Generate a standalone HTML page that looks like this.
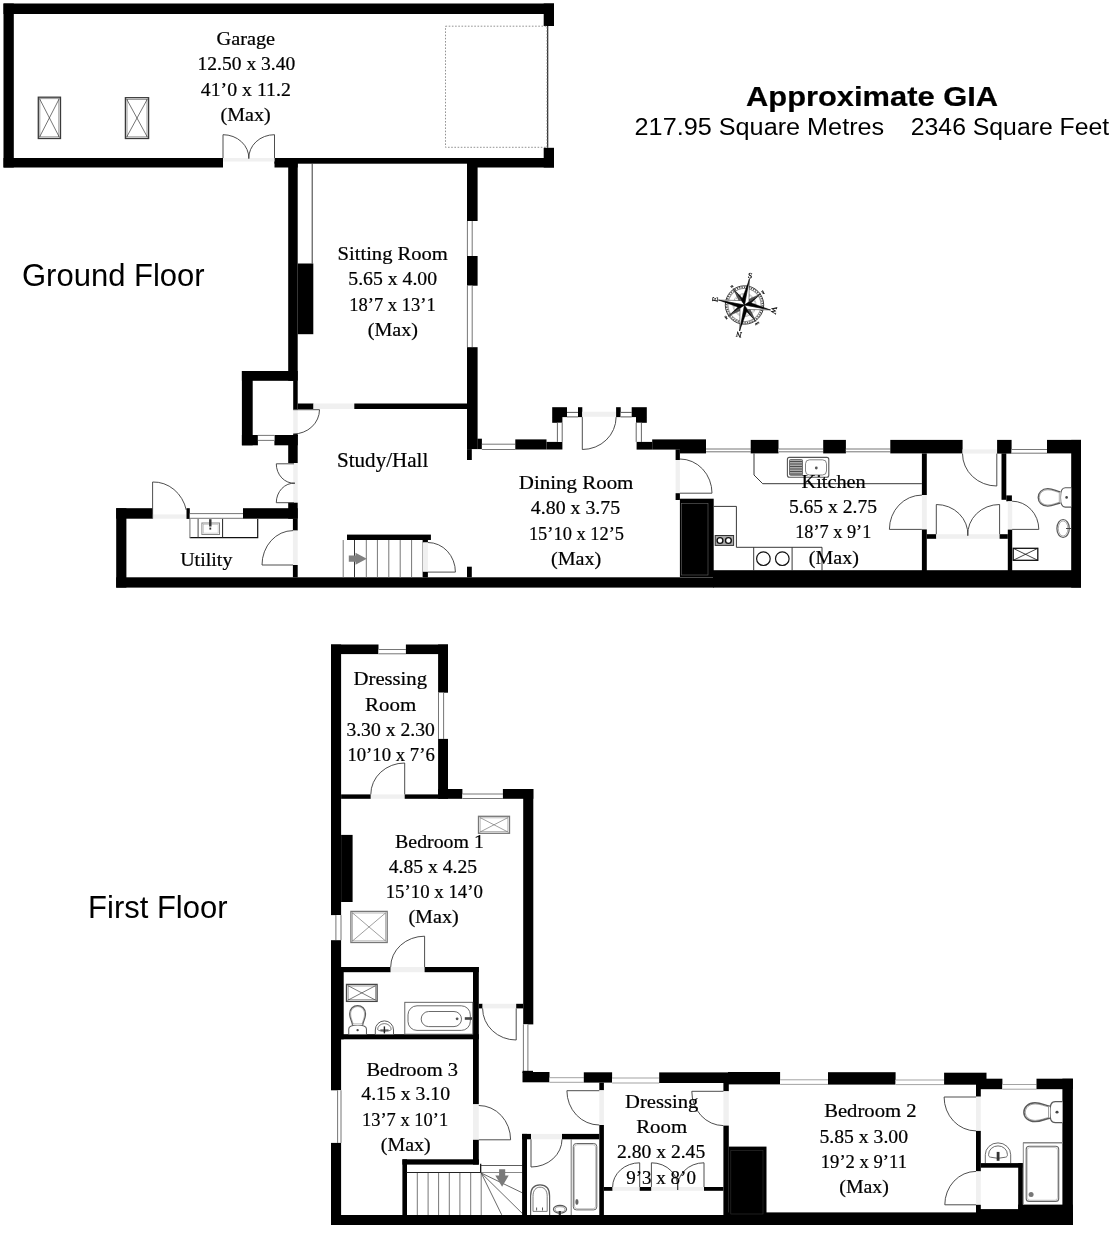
<!DOCTYPE html>
<html><head><meta charset="utf-8"><title>Floor plan</title>
<style>html,body{margin:0;padding:0;background:#fff;}svg{display:block;filter:grayscale(1);}text{fill:#000;stroke:#000;stroke-width:0.22px;}</style></head>
<body><svg width="1112" height="1234" viewBox="0 0 1112 1234">
<rect width="1112" height="1234" fill="#fff"/>
<rect x="3.5" y="3.5" width="550.5" height="10.5" fill="#000"/>
<rect x="3.5" y="3.5" width="10.3" height="164.0" fill="#000"/>
<rect x="3.5" y="158.0" width="219.5" height="9.5" fill="#000"/>
<rect x="274.5" y="158.0" width="279.5" height="5.7" fill="#000"/>
<rect x="274.5" y="158.0" width="23.2" height="9.5" fill="#000"/>
<rect x="467.0" y="158.0" width="87.0" height="9.5" fill="#000"/>
<rect x="543.7" y="3.5" width="10.3" height="22.5" fill="#000"/>
<rect x="543.7" y="147.8" width="10.3" height="19.7" fill="#000"/>
<line x1="547.7" y1="26.0" x2="547.7" y2="147.8" stroke="#111" stroke-width="1.1"/>
<rect x="445.5" y="26.2" width="101.5" height="121.1" rx="0" fill="none" stroke="#777" stroke-width="0.8" stroke-dasharray="1.6 1.6"/>
<rect x="223.0" y="158.0" width="51.5" height="3.5" fill="#f0f0f0"/>
<path d="M223.0 158.0L223.0 134.7A25.8 23.3 0 0 1 248.8 158.6" fill="none" stroke="#3a3a3a" stroke-width="0.9"/>
<path d="M274.5 158.0L274.5 134.7A25.7 23.3 0 0 0 248.8 158.6" fill="none" stroke="#3a3a3a" stroke-width="0.9"/>
<rect x="38.3" y="97.2" width="22.2" height="41.3" rx="0" fill="none" stroke="#3a3a3a" stroke-width="1.3" />
<rect x="39.9" y="98.8" width="19.0" height="38.1" rx="0" fill="none" stroke="#3a3a3a" stroke-width="0.5" />
<line x1="39.3" y1="98.2" x2="59.5" y2="137.5" stroke="#3a3a3a" stroke-width="0.7"/>
<line x1="39.3" y1="137.5" x2="59.5" y2="98.2" stroke="#3a3a3a" stroke-width="0.7"/>
<rect x="125.4" y="97.7" width="23.2" height="40.8" rx="0" fill="none" stroke="#3a3a3a" stroke-width="1.3" />
<rect x="127.0" y="99.3" width="20.0" height="37.6" rx="0" fill="none" stroke="#3a3a3a" stroke-width="0.5" />
<line x1="126.4" y1="98.7" x2="147.6" y2="137.5" stroke="#3a3a3a" stroke-width="0.7"/>
<line x1="126.4" y1="137.5" x2="147.6" y2="98.7" stroke="#3a3a3a" stroke-width="0.7"/>
<rect x="288.2" y="163.0" width="9.5" height="217.8" fill="#000"/>
<rect x="293.2" y="380.8" width="4.5" height="28.9" fill="#000"/>
<rect x="293.2" y="409.7" width="4.5" height="24.2" fill="#f0f0f0"/>
<rect x="293.2" y="433.9" width="4.5" height="2.1" fill="#000"/>
<rect x="288.2" y="435.0" width="9.5" height="28.1" fill="#000"/>
<rect x="293.2" y="463.1" width="4.5" height="39.6" fill="#f0f0f0"/>
<rect x="288.2" y="502.7" width="9.5" height="16.0" fill="#000"/>
<rect x="292.9" y="518.7" width="4.8" height="11.9" fill="#000"/>
<rect x="292.9" y="530.6" width="4.8" height="34.4" fill="#f0f0f0"/>
<rect x="292.9" y="565.0" width="4.8" height="12.3" fill="#000"/>
<line x1="312.2" y1="163.7" x2="312.2" y2="263.5" stroke="#222" stroke-width="0.9"/>
<rect x="297.7" y="263.5" width="15.6" height="70.7" fill="#000"/>
<rect x="467.0" y="163.0" width="10.6" height="58.0" fill="#000"/>
<rect x="467.4" y="221.0" width="4.8" height="35.0" fill="#fff"/>
<line x1="467.4" y1="221.0" x2="467.4" y2="256.0" stroke="#666" stroke-width="0.9"/>
<line x1="472.2" y1="221.0" x2="472.2" y2="256.0" stroke="#666" stroke-width="0.9"/>
<rect x="467.0" y="256.0" width="10.6" height="29.7" fill="#000"/>
<rect x="467.4" y="285.7" width="4.8" height="61.5" fill="#fff"/>
<line x1="467.4" y1="285.7" x2="467.4" y2="347.2" stroke="#666" stroke-width="0.9"/>
<line x1="472.2" y1="285.7" x2="472.2" y2="347.2" stroke="#666" stroke-width="0.9"/>
<rect x="467.0" y="347.2" width="10.6" height="101.9" fill="#000"/>
<rect x="467.0" y="449.1" width="4.8" height="10.9" fill="#000"/>
<rect x="477.4" y="438.7" width="4.5" height="10.4" fill="#000"/>
<rect x="297.7" y="403.5" width="15.8" height="5.5" fill="#000"/>
<rect x="313.5" y="403.5" width="40.8" height="5.5" fill="#f0f0f0"/>
<rect x="354.3" y="403.5" width="112.7" height="5.5" fill="#000"/>
<rect x="241.9" y="371.0" width="55.8" height="9.8" fill="#000"/>
<rect x="241.9" y="371.0" width="10.8" height="74.3" fill="#000"/>
<rect x="241.9" y="435.0" width="16.0" height="10.3" fill="#000"/>
<rect x="274.4" y="435.0" width="23.3" height="10.3" fill="#000"/>
<rect x="257.9" y="435.4" width="16.5" height="5.0" fill="#fff"/>
<line x1="257.9" y1="435.4" x2="274.4" y2="435.4" stroke="#666" stroke-width="0.9"/>
<line x1="257.9" y1="440.4" x2="274.4" y2="440.4" stroke="#666" stroke-width="0.9"/>
<path d="M293.2 409.7L319.5 409.7A26.3 24.3 0 0 1 293.2 434.0" fill="none" stroke="#3a3a3a" stroke-width="0.9"/>
<path d="M294.0 463.8L276.3 463.8A17.7 19.4 0 0 0 294.9 483.2" fill="none" stroke="#3a3a3a" stroke-width="0.9"/>
<path d="M294.0 502.7L276.3 502.7A17.7 19.5 0 0 1 294.9 483.2" fill="none" stroke="#3a3a3a" stroke-width="0.9"/>
<rect x="116.2" y="508.2" width="36.4" height="10.5" fill="#000"/>
<rect x="152.6" y="514.4" width="33.7" height="4.3" fill="#f0f0f0"/>
<rect x="186.5" y="508.2" width="3.3" height="10.7" fill="#000"/>
<rect x="189.8" y="513.6" width="53.2" height="4.7" fill="#fff"/>
<line x1="189.8" y1="513.6" x2="243.0" y2="513.6" stroke="#666" stroke-width="0.9"/>
<line x1="189.8" y1="518.3" x2="243.0" y2="518.3" stroke="#666" stroke-width="0.9"/>
<rect x="243.0" y="508.2" width="54.7" height="10.5" fill="#000"/>
<rect x="116.2" y="508.2" width="10.2" height="79.4" fill="#000"/>
<rect x="116.2" y="577.3" width="597.5" height="10.3" fill="#000"/>
<rect x="713.0" y="570.2" width="368.0" height="17.4" fill="#000"/>
<path d="M152.6 518.7L152.6 482.0A33.7 36.7 0 0 1 186.3 510.0" fill="none" stroke="#3a3a3a" stroke-width="0.9"/>
<path d="M293.0 565.0L262.0 565.0A31.0 34.4 0 0 1 293.0 530.6" fill="none" stroke="#3a3a3a" stroke-width="0.9"/>
<path d="M189.7 537.7 L257.7 537.7 L257.7 518.9" fill="none" stroke="#111" stroke-width="1.2"/>
<line x1="189.9" y1="518.9" x2="189.9" y2="537.7" stroke="#888" stroke-width="1.2"/>
<line x1="222.6" y1="518.9" x2="222.6" y2="537.7" stroke="#222" stroke-width="1.0"/>
<line x1="198.1" y1="518.9" x2="198.1" y2="537.7" stroke="#333" stroke-width="0.9"/>
<rect x="201.9" y="523.0" width="17.6" height="11.5" rx="0" fill="none" stroke="#888" stroke-width="1.0" />
<rect x="203.3" y="524.4" width="14.8" height="8.7" rx="0" fill="none" stroke="#aaa" stroke-width="0.5" />
<rect x="209.1" y="519.2" width="2.4" height="7.3" fill="#333"/>
<rect x="209.4" y="527.6" width="1.8" height="2.0" fill="#333"/>
<rect x="347.0" y="534.6" width="83.9" height="5.4" fill="#000"/>
<line x1="343.2" y1="540.0" x2="343.2" y2="577.3" stroke="#777" stroke-width="1.0"/>
<line x1="354.5" y1="540.0" x2="354.5" y2="577.3" stroke="#333" stroke-width="1.0"/>
<line x1="366.3" y1="540.0" x2="366.3" y2="577.3" stroke="#777" stroke-width="1.0"/>
<line x1="377.4" y1="540.0" x2="377.4" y2="577.3" stroke="#777" stroke-width="1.0"/>
<line x1="388.8" y1="540.0" x2="388.8" y2="577.3" stroke="#777" stroke-width="1.0"/>
<line x1="400.2" y1="540.0" x2="400.2" y2="577.3" stroke="#777" stroke-width="1.0"/>
<line x1="411.6" y1="540.0" x2="411.6" y2="577.3" stroke="#777" stroke-width="1.0"/>
<line x1="422.9" y1="540.0" x2="422.9" y2="577.3" stroke="#777" stroke-width="1.0"/>
<rect x="422.9" y="540.0" width="5.0" height="2.5" fill="#000"/>
<rect x="422.9" y="542.5" width="5.0" height="29.3" fill="#f0f0f0"/>
<rect x="422.9" y="571.8" width="5.0" height="5.5" fill="#000"/>
<path d="M427.9 572.1L455.4 572.1A27.5 29.6 0 0 0 427.9 542.5" fill="none" stroke="#3a3a3a" stroke-width="0.9"/>
<path d="M348.8 555.6 L355.5 555.6 L355.5 552.8 L366.8 558.7 L355.5 564.7 L355.5 561.8 L348.8 561.8 Z" fill="#808080" stroke="none" stroke-width="0.9"/>
<rect x="467.0" y="566.7" width="4.8" height="10.6" fill="#000"/>
<rect x="481.9" y="444.2" width="33.4" height="5.3" fill="#fff"/>
<line x1="481.9" y1="444.2" x2="515.3" y2="444.2" stroke="#666" stroke-width="0.9"/>
<line x1="481.9" y1="449.5" x2="515.3" y2="449.5" stroke="#666" stroke-width="0.9"/>
<rect x="515.3" y="439.4" width="31.2" height="10.1" fill="#000"/>
<rect x="546.5" y="441.9" width="15.9" height="7.6" fill="#000"/>
<rect x="552.2" y="407.2" width="14.8" height="9.9" fill="#000"/>
<rect x="552.2" y="417.0" width="10.2" height="5.8" fill="#000"/>
<rect x="557.4" y="422.8" width="4.8" height="19.1" fill="#fff"/>
<line x1="557.4" y1="422.8" x2="557.4" y2="441.9" stroke="#555" stroke-width="0.9"/>
<line x1="562.2" y1="422.8" x2="562.2" y2="441.9" stroke="#555" stroke-width="0.9"/>
<rect x="567.0" y="412.4" width="11.0" height="4.5" fill="#fff"/>
<line x1="567.0" y1="412.4" x2="578.0" y2="412.4" stroke="#444" stroke-width="0.9"/>
<line x1="567.0" y1="416.9" x2="578.0" y2="416.9" stroke="#444" stroke-width="0.9"/>
<rect x="578.0" y="407.2" width="4.3" height="9.9" fill="#000"/>
<rect x="582.3" y="411.7" width="33.8" height="5.1" fill="#f0f0f0"/>
<rect x="616.1" y="407.2" width="4.6" height="9.9" fill="#000"/>
<rect x="620.7" y="412.4" width="11.0" height="4.5" fill="#fff"/>
<line x1="620.7" y1="412.4" x2="631.7" y2="412.4" stroke="#444" stroke-width="0.9"/>
<line x1="620.7" y1="416.9" x2="631.7" y2="416.9" stroke="#444" stroke-width="0.9"/>
<rect x="631.7" y="407.2" width="15.1" height="9.9" fill="#000"/>
<rect x="636.0" y="417.0" width="10.8" height="5.8" fill="#000"/>
<rect x="636.2" y="422.8" width="5.2" height="19.1" fill="#fff"/>
<line x1="636.2" y1="422.8" x2="636.2" y2="441.9" stroke="#555" stroke-width="0.9"/>
<line x1="641.4" y1="422.8" x2="641.4" y2="441.9" stroke="#555" stroke-width="0.9"/>
<rect x="636.6" y="441.9" width="15.6" height="7.7" fill="#000"/>
<rect x="652.2" y="439.4" width="53.8" height="10.2" fill="#000"/>
<path d="M582.3 417.1L582.3 449.5A33.8 32.4 0 0 0 616.1 417.1" fill="none" stroke="#3a3a3a" stroke-width="0.9"/>
<rect x="675.6" y="449.4" width="4.3" height="10.6" fill="#000"/>
<rect x="675.6" y="460.0" width="4.3" height="33.2" fill="#f0f0f0"/>
<rect x="675.6" y="493.2" width="4.3" height="6.8" fill="#000"/>
<rect x="679.9" y="498.7" width="33.8" height="78.3" fill="#000"/>
<rect x="681.5" y="503.5" width="26.5" height="71.5" rx="0" fill="none" stroke="#666" stroke-width="0.6" />
<path d="M679.9 493.2L712.0 493.2A32.1 34.2 0 0 0 679.9 459.0" fill="none" stroke="#3a3a3a" stroke-width="0.9"/>
<rect x="679.9" y="439.9" width="26.1" height="13.5" fill="#000"/>
<rect x="706.0" y="449.0" width="44.7" height="2.8" fill="#fff"/>
<line x1="706.0" y1="449.0" x2="750.7" y2="449.0" stroke="#666" stroke-width="0.9"/>
<line x1="706.0" y1="451.8" x2="750.7" y2="451.8" stroke="#666" stroke-width="0.9"/>
<rect x="750.7" y="439.9" width="27.8" height="13.5" fill="#000"/>
<rect x="778.5" y="449.0" width="44.7" height="2.8" fill="#fff"/>
<line x1="778.5" y1="449.0" x2="823.2" y2="449.0" stroke="#666" stroke-width="0.9"/>
<line x1="778.5" y1="451.8" x2="823.2" y2="451.8" stroke="#666" stroke-width="0.9"/>
<rect x="823.2" y="439.9" width="22.7" height="13.5" fill="#000"/>
<rect x="845.9" y="449.0" width="44.4" height="2.8" fill="#fff"/>
<line x1="845.9" y1="449.0" x2="890.3" y2="449.0" stroke="#666" stroke-width="0.9"/>
<line x1="845.9" y1="451.8" x2="890.3" y2="451.8" stroke="#666" stroke-width="0.9"/>
<rect x="890.3" y="439.9" width="72.3" height="13.5" fill="#000"/>
<rect x="962.5" y="449.4" width="34.6" height="4.2" fill="#f0f0f0"/>
<rect x="997.1" y="439.9" width="14.5" height="13.7" fill="#000"/>
<rect x="1011.6" y="449.5" width="35.4" height="3.7" fill="#fff"/>
<line x1="1011.6" y1="449.5" x2="1047.0" y2="449.5" stroke="#666" stroke-width="0.9"/>
<line x1="1011.6" y1="453.2" x2="1047.0" y2="453.2" stroke="#666" stroke-width="0.9"/>
<rect x="1047.0" y="439.9" width="34.0" height="13.5" fill="#000"/>
<rect x="1071.2" y="439.9" width="9.8" height="147.7" fill="#000"/>
<rect x="921.9" y="453.4" width="4.9" height="41.7" fill="#000"/>
<rect x="921.9" y="495.1" width="4.9" height="34.3" fill="#f0f0f0"/>
<rect x="921.9" y="529.4" width="4.9" height="41.6" fill="#000"/>
<rect x="926.8" y="534.2" width="9.5" height="4.6" fill="#000"/>
<rect x="936.3" y="534.2" width="63.3" height="4.6" fill="#f0f0f0"/>
<rect x="999.6" y="534.2" width="8.2" height="4.6" fill="#000"/>
<rect x="1001.5" y="453.4" width="4.8" height="46.4" fill="#000"/>
<rect x="1006.3" y="495.4" width="5.6" height="5.9" fill="#000"/>
<rect x="1007.8" y="501.3" width="4.4" height="28.3" fill="#f0f0f0"/>
<rect x="1007.8" y="529.6" width="4.4" height="41.4" fill="#000"/>
<path d="M996.8 453.6L996.8 486.0A34.3 32.4 0 0 1 962.5 453.6" fill="none" stroke="#3a3a3a" stroke-width="0.9"/>
<path d="M921.9 529.4L889.4 529.4A32.5 34.3 0 0 1 921.9 495.1" fill="none" stroke="#3a3a3a" stroke-width="0.9"/>
<path d="M936.3 534.2L936.3 504.5A31.5 29.7 0 0 1 967.8 535.7" fill="none" stroke="#3a3a3a" stroke-width="0.9"/>
<path d="M999.6 534.2L999.6 504.5A31.8 29.7 0 0 0 967.8 535.7" fill="none" stroke="#3a3a3a" stroke-width="0.9"/>
<path d="M1012.1 529.4L1038.8 529.4A26.7 28.2 0 0 0 1012.1 501.2" fill="none" stroke="#3a3a3a" stroke-width="0.9"/>
<rect x="1013.2" y="548.3" width="24.6" height="12.0" rx="0" fill="none" stroke="#111" stroke-width="1.3" />
<line x1="1013.2" y1="548.3" x2="1037.8" y2="560.3" stroke="#111" stroke-width="0.8"/>
<line x1="1013.2" y1="560.3" x2="1037.8" y2="548.3" stroke="#111" stroke-width="0.8"/>
<path d="M754 453.4 L754 475 L762.7 483.7 L921.9 483.7" fill="none" stroke="#222" stroke-width="0.9"/>
<path d="M713.8 506.4 L736.4 506.4 L736.4 547.3 L822 547.3 L822 570.5" fill="none" stroke="#222" stroke-width="0.9"/>
<line x1="753.7" y1="547.4" x2="753.7" y2="570.5" stroke="#222" stroke-width="0.9"/>
<line x1="792.1" y1="547.4" x2="792.1" y2="570.5" stroke="#222" stroke-width="0.9"/>
<circle cx="763.4" cy="558.7" r="6.8" fill="none" stroke="#111" stroke-width="1.2"/>
<circle cx="782.3" cy="558.7" r="6.8" fill="none" stroke="#111" stroke-width="1.2"/>
<rect x="715.2" y="535.5" width="18.4" height="9.9" rx="0" fill="#aaa" stroke="#333" stroke-width="1.0" />
<circle cx="720" cy="540.5" r="2.9" fill="#fff" stroke="#111" stroke-width="1.4"/>
<circle cx="728.4" cy="540.5" r="2.9" fill="#fff" stroke="#111" stroke-width="1.4"/>
<rect x="787.4" y="457.4" width="41.4" height="19.9" rx="2" fill="none" stroke="#555" stroke-width="1.1" />
<rect x="789.5" y="459.5" width="13.0" height="15.8" rx="1" fill="#aaa" stroke="#555" stroke-width="0.8" />
<line x1="790.0" y1="461.5" x2="802.0" y2="461.5" stroke="#444" stroke-width="0.9"/>
<line x1="790.0" y1="464.0" x2="802.0" y2="464.0" stroke="#444" stroke-width="0.9"/>
<line x1="790.0" y1="466.5" x2="802.0" y2="466.5" stroke="#444" stroke-width="0.9"/>
<line x1="790.0" y1="469.0" x2="802.0" y2="469.0" stroke="#444" stroke-width="0.9"/>
<line x1="790.0" y1="471.5" x2="802.0" y2="471.5" stroke="#444" stroke-width="0.9"/>
<line x1="790.0" y1="474.0" x2="802.0" y2="474.0" stroke="#444" stroke-width="0.9"/>
<rect x="805.5" y="459.8" width="21.0" height="15.2" rx="4" fill="none" stroke="#666" stroke-width="0.8" />
<circle cx="816.3" cy="468" r="1.4" fill="#555"/>
<rect x="331.0" y="644.5" width="47.5" height="9.6" fill="#000"/>
<rect x="378.5" y="649.5" width="27.4" height="4.3" fill="#fff"/>
<line x1="378.5" y1="649.5" x2="405.9" y2="649.5" stroke="#666" stroke-width="0.9"/>
<line x1="378.5" y1="653.8" x2="405.9" y2="653.8" stroke="#666" stroke-width="0.9"/>
<rect x="405.9" y="644.5" width="42.1" height="9.6" fill="#000"/>
<rect x="331.0" y="644.5" width="10.1" height="270.6" fill="#000"/>
<rect x="335.9" y="915.1" width="5.1" height="25.1" fill="#fff"/>
<line x1="335.9" y1="915.1" x2="335.9" y2="940.2" stroke="#666" stroke-width="0.9"/>
<line x1="341.0" y1="915.1" x2="341.0" y2="940.2" stroke="#666" stroke-width="0.9"/>
<rect x="331.0" y="940.2" width="10.1" height="150.1" fill="#000"/>
<rect x="337.6" y="1090.3" width="3.4" height="52.6" fill="#fff"/>
<line x1="337.6" y1="1090.3" x2="337.6" y2="1142.9" stroke="#666" stroke-width="0.9"/>
<line x1="341.0" y1="1090.3" x2="341.0" y2="1142.9" stroke="#666" stroke-width="0.9"/>
<rect x="331.0" y="1142.9" width="10.1" height="82.1" fill="#000"/>
<rect x="438.1" y="644.5" width="9.9" height="48.2" fill="#000"/>
<rect x="438.5" y="692.7" width="5.1" height="46.2" fill="#fff"/>
<line x1="438.5" y1="692.7" x2="438.5" y2="738.9" stroke="#666" stroke-width="0.9"/>
<line x1="443.6" y1="692.7" x2="443.6" y2="738.9" stroke="#666" stroke-width="0.9"/>
<rect x="438.1" y="738.9" width="9.9" height="59.9" fill="#000"/>
<rect x="341.1" y="794.4" width="29.7" height="4.4" fill="#000"/>
<rect x="370.8" y="794.4" width="33.9" height="4.4" fill="#f0f0f0"/>
<rect x="404.7" y="794.4" width="33.4" height="4.4" fill="#000"/>
<path d="M404.7 794.4L404.7 763.0A33.9 31.4 0 0 0 370.8 794.4" fill="none" stroke="#3a3a3a" stroke-width="0.9"/>
<rect x="438.1" y="789.0" width="24.3" height="9.8" fill="#000"/>
<rect x="462.4" y="794.0" width="40.5" height="4.5" fill="#fff"/>
<line x1="462.4" y1="794.0" x2="502.9" y2="794.0" stroke="#666" stroke-width="0.9"/>
<line x1="462.4" y1="798.5" x2="502.9" y2="798.5" stroke="#666" stroke-width="0.9"/>
<rect x="502.9" y="789.0" width="30.4" height="9.8" fill="#000"/>
<rect x="523.2" y="789.0" width="10.1" height="235.4" fill="#000"/>
<rect x="341.1" y="834.9" width="11.5" height="67.1" fill="#000"/>
<rect x="478.5" y="816.3" width="31.0" height="17.0" rx="0" fill="none" stroke="#777" stroke-width="1.3" />
<rect x="480.1" y="817.9" width="27.8" height="13.8" rx="0" fill="none" stroke="#777" stroke-width="0.5" />
<line x1="479.5" y1="817.3" x2="508.5" y2="832.3" stroke="#777" stroke-width="0.7"/>
<line x1="479.5" y1="832.3" x2="508.5" y2="817.3" stroke="#777" stroke-width="0.7"/>
<rect x="350.9" y="911.4" width="36.3" height="31.1" rx="0" fill="none" stroke="#777" stroke-width="1.3" />
<rect x="352.5" y="913.0" width="33.1" height="27.9" rx="0" fill="none" stroke="#777" stroke-width="0.5" />
<line x1="351.9" y1="912.4" x2="386.2" y2="941.5" stroke="#777" stroke-width="0.7"/>
<line x1="351.9" y1="941.5" x2="386.2" y2="912.4" stroke="#777" stroke-width="0.7"/>
<rect x="341.1" y="967.0" width="49.6" height="5.2" fill="#000"/>
<rect x="390.7" y="967.0" width="33.9" height="5.2" fill="#f0f0f0"/>
<rect x="424.6" y="967.0" width="54.2" height="5.2" fill="#000"/>
<path d="M424.6 967.0L424.6 936.2A33.9 30.8 0 0 0 390.7 967.0" fill="none" stroke="#3a3a3a" stroke-width="0.9"/>
<rect x="473.0" y="967.0" width="5.8" height="137.3" fill="#000"/>
<rect x="473.0" y="1104.3" width="5.8" height="35.5" fill="#f0f0f0"/>
<rect x="473.0" y="1139.8" width="5.8" height="24.8" fill="#000"/>
<rect x="341.1" y="1034.2" width="137.7" height="5.1" fill="#000"/>
<rect x="341.0" y="967.0" width="2.7" height="72.3" fill="#000"/>
<rect x="402.4" y="1159.3" width="76.4" height="5.3" fill="#000"/>
<rect x="402.4" y="1159.3" width="4.6" height="55.7" fill="#000"/>
<path d="M478.8 1139.8L510.6 1139.8A31.8 34.3 0 0 0 478.8 1105.5" fill="none" stroke="#3a3a3a" stroke-width="0.9"/>
<rect x="331.0" y="1215.0" width="397.8" height="10.0" fill="#000"/>
<rect x="728.0" y="1212.4" width="344.8" height="12.6" fill="#000"/>
<rect x="478.8" y="1003.8" width="3.8" height="4.6" fill="#000"/>
<rect x="482.6" y="1003.8" width="33.6" height="4.6" fill="#f0f0f0"/>
<rect x="516.2" y="1003.8" width="7.0" height="4.6" fill="#000"/>
<path d="M516.2 1008.4L516.2 1040.0A33.6 31.6 0 0 1 482.6 1008.4" fill="none" stroke="#3a3a3a" stroke-width="0.9"/>
<rect x="523.4" y="1024.4" width="4.5" height="47.2" fill="#fff"/>
<line x1="523.4" y1="1024.4" x2="523.4" y2="1071.6" stroke="#666" stroke-width="0.9"/>
<line x1="527.9" y1="1024.4" x2="527.9" y2="1071.6" stroke="#666" stroke-width="0.9"/>
<rect x="522.5" y="1072.0" width="27.0" height="10.3" fill="#000"/>
<rect x="522.5" y="1070.8" width="10.5" height="2.2" fill="#000"/>
<rect x="549.5" y="1077.7" width="34.3" height="4.6" fill="#fff"/>
<line x1="549.5" y1="1077.7" x2="583.8" y2="1077.7" stroke="#999" stroke-width="0.9"/>
<line x1="549.5" y1="1082.3" x2="583.8" y2="1082.3" stroke="#999" stroke-width="0.9"/>
<rect x="583.8" y="1072.3" width="28.3" height="10.3" fill="#000"/>
<rect x="612.1" y="1078.0" width="47.1" height="5.0" fill="#fff"/>
<line x1="612.1" y1="1078.0" x2="659.2" y2="1078.0" stroke="#999" stroke-width="0.9"/>
<line x1="612.1" y1="1083.0" x2="659.2" y2="1083.0" stroke="#999" stroke-width="0.9"/>
<rect x="659.2" y="1072.4" width="69.6" height="10.6" fill="#000"/>
<rect x="728.0" y="1072.0" width="52.1" height="12.4" fill="#000"/>
<rect x="780.1" y="1079.8" width="47.9" height="4.6" fill="#fff"/>
<line x1="780.1" y1="1079.8" x2="828.0" y2="1079.8" stroke="#999" stroke-width="0.9"/>
<line x1="780.1" y1="1084.4" x2="828.0" y2="1084.4" stroke="#999" stroke-width="0.9"/>
<rect x="828.0" y="1072.2" width="67.6" height="12.4" fill="#000"/>
<rect x="895.6" y="1080.0" width="48.5" height="4.6" fill="#fff"/>
<line x1="895.6" y1="1080.0" x2="944.1" y2="1080.0" stroke="#999" stroke-width="0.9"/>
<line x1="895.6" y1="1084.6" x2="944.1" y2="1084.6" stroke="#999" stroke-width="0.9"/>
<rect x="944.1" y="1072.7" width="42.4" height="12.0" fill="#000"/>
<rect x="976.0" y="1078.7" width="26.4" height="10.5" fill="#000"/>
<rect x="1002.4" y="1084.5" width="34.1" height="4.7" fill="#fff"/>
<line x1="1002.4" y1="1084.5" x2="1036.5" y2="1084.5" stroke="#999" stroke-width="0.9"/>
<line x1="1002.4" y1="1089.2" x2="1036.5" y2="1089.2" stroke="#999" stroke-width="0.9"/>
<rect x="1036.5" y="1078.7" width="36.4" height="10.5" fill="#000"/>
<rect x="1062.4" y="1078.7" width="10.5" height="146.3" fill="#000"/>
<line x1="417.3" y1="1172.5" x2="417.3" y2="1215.0" stroke="#555" stroke-width="0.8"/>
<line x1="428.1" y1="1172.5" x2="428.1" y2="1215.0" stroke="#555" stroke-width="0.8"/>
<line x1="438.6" y1="1172.5" x2="438.6" y2="1215.0" stroke="#555" stroke-width="0.8"/>
<line x1="449.3" y1="1172.5" x2="449.3" y2="1215.0" stroke="#555" stroke-width="0.8"/>
<line x1="459.9" y1="1172.5" x2="459.9" y2="1215.0" stroke="#555" stroke-width="0.8"/>
<line x1="470.7" y1="1172.5" x2="470.7" y2="1215.0" stroke="#555" stroke-width="0.8"/>
<line x1="481.2" y1="1172.5" x2="481.2" y2="1215.0" stroke="#555" stroke-width="0.8"/>
<line x1="406.4" y1="1172.5" x2="480.7" y2="1172.5" stroke="#222" stroke-width="1.0"/>
<line x1="480.7" y1="1163.8" x2="480.7" y2="1172.8" stroke="#000" stroke-width="1.2"/>
<line x1="480.7" y1="1165.5" x2="522.7" y2="1165.5" stroke="#333" stroke-width="0.8"/>
<line x1="480.7" y1="1172.5" x2="522.7" y2="1172.5" stroke="#555" stroke-width="0.7"/>
<line x1="481.2" y1="1173.0" x2="522.7" y2="1193.0" stroke="#444" stroke-width="0.8"/>
<line x1="481.2" y1="1173.0" x2="522.7" y2="1213.8" stroke="#444" stroke-width="0.8"/>
<line x1="481.2" y1="1173.0" x2="501.7" y2="1214.8" stroke="#444" stroke-width="0.8"/>
<path d="M499.1 1169.3 L505.2 1169.3 L505.2 1175.5 L508.7 1175.5 L502.1 1186.8 L495.3 1175.5 L499.1 1175.5 Z" fill="#7a7a7a" stroke="none" stroke-width="0.9"/>
<rect x="522.1" y="1133.9" width="8.9" height="5.4" fill="#000"/>
<rect x="531.0" y="1133.9" width="31.0" height="5.4" fill="#f0f0f0"/>
<rect x="562.0" y="1133.9" width="37.3" height="5.4" fill="#000"/>
<rect x="522.1" y="1133.9" width="4.9" height="81.1" fill="#000"/>
<path d="M531.0 1139.3L531.0 1167.0A31.0 27.7 0 0 0 562.0 1139.3" fill="none" stroke="#3a3a3a" stroke-width="0.9"/>
<rect x="599.3" y="1082.6" width="4.6" height="7.7" fill="#000"/>
<rect x="599.3" y="1090.3" width="4.6" height="34.7" fill="#f0f0f0"/>
<rect x="599.3" y="1125.0" width="4.6" height="90.3" fill="#000"/>
<path d="M599.3 1090.7L566.9 1090.7A32.4 34.3 0 0 0 599.3 1125.0" fill="none" stroke="#3a3a3a" stroke-width="0.9"/>
<rect x="603.9" y="1187.0" width="8.7" height="3.8" fill="#000"/>
<rect x="612.6" y="1187.0" width="27.1" height="3.8" fill="#f0f0f0"/>
<rect x="639.7" y="1187.0" width="11.7" height="3.8" fill="#000"/>
<rect x="651.4" y="1187.0" width="52.6" height="3.8" fill="#f0f0f0"/>
<rect x="704.0" y="1187.0" width="19.4" height="3.8" fill="#000"/>
<path d="M639.7 1187.0L639.7 1162.8A27.1 24.2 0 0 0 612.6 1187.0" fill="none" stroke="#3a3a3a" stroke-width="0.9"/>
<path d="M651.4 1187.0L651.4 1162.8A26.3 24.2 0 0 1 677.7 1190.0" fill="none" stroke="#3a3a3a" stroke-width="0.9"/>
<path d="M704.0 1187.0L704.0 1162.8A26.3 24.2 0 0 0 677.7 1190.0" fill="none" stroke="#3a3a3a" stroke-width="0.9"/>
<rect x="723.4" y="1082.6" width="5.4" height="8.7" fill="#000"/>
<rect x="723.4" y="1091.3" width="5.4" height="34.3" fill="#f0f0f0"/>
<rect x="723.4" y="1125.6" width="5.4" height="89.7" fill="#000"/>
<path d="M723.4 1091.3L691.8 1091.3A31.6 34.3 0 0 0 723.4 1125.6" fill="none" stroke="#3a3a3a" stroke-width="0.9"/>
<rect x="728.8" y="1146.6" width="37.7" height="68.7" fill="#000"/>
<rect x="730.8" y="1150.5" width="32.2" height="63.5" rx="0" fill="none" stroke="#333" stroke-width="0.6" />
<rect x="976.0" y="1089.0" width="4.8" height="7.7" fill="#000"/>
<rect x="976.0" y="1096.7" width="4.8" height="34.2" fill="#f0f0f0"/>
<rect x="976.0" y="1130.9" width="4.8" height="40.5" fill="#000"/>
<rect x="976.0" y="1171.4" width="4.8" height="33.4" fill="#f0f0f0"/>
<rect x="976.0" y="1204.8" width="4.8" height="10.2" fill="#000"/>
<rect x="980.7" y="1163.1" width="42.2" height="4.6" fill="#000"/>
<rect x="1018.2" y="1163.1" width="4.7" height="46.0" fill="#000"/>
<rect x="1018.2" y="1204.6" width="54.6" height="20.4" fill="#000"/>
<rect x="976.0" y="1209.1" width="46.9" height="15.9" fill="#000"/>
<path d="M976.0 1097.0L944.1 1097.0A31.9 33.9 0 0 0 976.0 1130.9" fill="none" stroke="#3a3a3a" stroke-width="0.9"/>
<path d="M976.0 1204.8L944.8 1204.8A31.2 33.4 0 0 1 976.0 1171.4" fill="none" stroke="#3a3a3a" stroke-width="0.9"/>
<g transform="translate(1071.2 497.4) rotate(0) scale(1.000 1.000)">
<path d="M0 -9.7 L-6 -9.7 C-10 -9.7 -10.7 -6 -10.7 0 C-10.7 6 -10 9.7 -6 9.7 L0 9.7" fill="#fff" stroke="#5a5a5a" stroke-width="1.1"/>
<path d="M-10.7 -5.6 C-15 -6.2 -18 -8.7 -23.5 -8.7 C-29.5 -8.7 -33 -4.5 -33 0 C-33 4.5 -29.5 8.7 -23.5 8.7 C-18 8.7 -15 6.2 -10.7 5.6" fill="#fff" stroke="#5a5a5a" stroke-width="1.3"/>
<path d="M-11.9 -5 C-15.5 -5.6 -18.5 -7.6 -23.3 -7.6 C-28.6 -7.6 -31.8 -4 -31.8 0 C-31.8 4 -28.6 7.6 -23.3 7.6 C-18.5 7.6 -15.5 5.6 -11.9 5 Z" fill="none" stroke="#5a5a5a" stroke-width="0.5"/>
<circle cx="-4.6" cy="0" r="1.3" fill="#444"/>
</g>
<ellipse cx="1063.1" cy="528.5" rx="6.2" ry="9" fill="#fff" stroke="#5a5a5a" stroke-width="1.2"/>
<ellipse cx="1063.1" cy="528.5" rx="4.8" ry="7.6" fill="none" stroke="#5a5a5a" stroke-width="0.5"/>
<line x1="1066.0" y1="528.5" x2="1071.2" y2="528.5" stroke="#444" stroke-width="1"/>
<rect x="346.5" y="984.4" width="30.6" height="17.0" rx="0" fill="none" stroke="#444" stroke-width="1.3" />
<rect x="348.1" y="986.0" width="27.4" height="13.8" rx="0" fill="none" stroke="#444" stroke-width="0.5" />
<line x1="347.5" y1="985.4" x2="376.1" y2="1000.4" stroke="#444" stroke-width="0.7"/>
<line x1="347.5" y1="1000.4" x2="376.1" y2="985.4" stroke="#444" stroke-width="0.7"/>
<g transform="translate(357.6 1034.2) rotate(90) scale(0.867 0.912)">
<path d="M0 -9.7 L-6 -9.7 C-10 -9.7 -10.7 -6 -10.7 0 C-10.7 6 -10 9.7 -6 9.7 L0 9.7" fill="#fff" stroke="#5a5a5a" stroke-width="1.1"/>
<path d="M-10.7 -5.6 C-15 -6.2 -18 -8.7 -23.5 -8.7 C-29.5 -8.7 -33 -4.5 -33 0 C-33 4.5 -29.5 8.7 -23.5 8.7 C-18 8.7 -15 6.2 -10.7 5.6" fill="#fff" stroke="#5a5a5a" stroke-width="1.3"/>
<path d="M-11.9 -5 C-15.5 -5.6 -18.5 -7.6 -23.3 -7.6 C-28.6 -7.6 -31.8 -4 -31.8 0 C-31.8 4 -28.6 7.6 -23.3 7.6 C-18.5 7.6 -15.5 5.6 -11.9 5 Z" fill="none" stroke="#5a5a5a" stroke-width="0.5"/>
<circle cx="-4.6" cy="0" r="1.3" fill="#444"/>
</g>
<path d="M375.3 1034.2 L375.3 1030 A9.1 9.1 0 0 1 393.5 1030 L393.5 1034.2" fill="#fff" stroke="#5a5a5a" stroke-width="1"/>
<path d="M377.6 1029.6 A6.8 6 0 0 1 391.2 1029.6 C389 1032 380 1032 377.6 1029.6 Z" fill="none" stroke="#5a5a5a" stroke-width="0.8"/>
<line x1="384.4" y1="1026.4" x2="384.4" y2="1033.4" stroke="#222" stroke-width="1.4"/>
<line x1="380.3" y1="1030.1" x2="388.6" y2="1030.1" stroke="#222" stroke-width="1.1"/>
<rect x="404.8" y="1002.3" width="68.0" height="31.9" rx="0" fill="none" stroke="#555" stroke-width="0.9" />
<rect x="408.0" y="1005.8" width="62.3" height="24.6" rx="9" fill="none" stroke="#5a5a5a" stroke-width="0.9" />
<rect x="421.2" y="1011.5" width="40.3" height="15.1" rx="7.5" fill="none" stroke="#5a5a5a" stroke-width="0.9" />
<circle cx="457.1" cy="1018.8" r="1.4" fill="#555"/>
<rect x="464.8" y="1017.2" width="7.2" height="2.6" fill="#444"/>
<path d="M530.6 1215 L530.6 1196 C530.6 1188 534.5 1184.9 540 1184.9 C545.6 1184.9 549.6 1188 549.6 1196 L549.6 1215" fill="#fff" stroke="#5a5a5a" stroke-width="1.2"/>
<path d="M533 1211.4 L533 1196.5 C533 1190 536 1187.2 540 1187.2 C544.2 1187.2 547.2 1190 547.2 1196.5 L547.2 1211.4 Z" fill="none" stroke="#5a5a5a" stroke-width="0.8"/>
<line x1="536.6" y1="1207.5" x2="536.6" y2="1210.5" stroke="#5a5a5a" stroke-width="1"/>
<line x1="542.5" y1="1207.5" x2="542.5" y2="1210.5" stroke="#5a5a5a" stroke-width="1"/>
<ellipse cx="560" cy="1209.3" rx="6.6" ry="3.9" fill="#fff" stroke="#5a5a5a" stroke-width="1.1"/>
<ellipse cx="560" cy="1209.3" rx="5" ry="2.6" fill="none" stroke="#5a5a5a" stroke-width="0.6"/>
<rect x="558.7" y="1211.0" width="2.2" height="4.0" fill="#333"/>
<line x1="571.2" y1="1139.3" x2="571.2" y2="1215.0" stroke="#666" stroke-width="0.9"/>
<rect x="573.3" y="1143.5" width="23.5" height="66.4" rx="3" fill="none" stroke="#666" stroke-width="1.0" />
<rect x="574.5" y="1144.7" width="21.1" height="64.0" rx="2.5" fill="none" stroke="#888" stroke-width="0.5" />
<ellipse cx="576.9" cy="1202" rx="1.6" ry="2.9" fill="#666"/>
<g transform="translate(1062.4 1112.2) rotate(0) scale(1.167 1.082)">
<path d="M0 -9.7 L-6 -9.7 C-10 -9.7 -10.7 -6 -10.7 0 C-10.7 6 -10 9.7 -6 9.7 L0 9.7" fill="#fff" stroke="#5a5a5a" stroke-width="1.1"/>
<path d="M-10.7 -5.6 C-15 -6.2 -18 -8.7 -23.5 -8.7 C-29.5 -8.7 -33 -4.5 -33 0 C-33 4.5 -29.5 8.7 -23.5 8.7 C-18 8.7 -15 6.2 -10.7 5.6" fill="#fff" stroke="#5a5a5a" stroke-width="1.3"/>
<path d="M-11.9 -5 C-15.5 -5.6 -18.5 -7.6 -23.3 -7.6 C-28.6 -7.6 -31.8 -4 -31.8 0 C-31.8 4 -28.6 7.6 -23.3 7.6 C-18.5 7.6 -15.5 5.6 -11.9 5 Z" fill="none" stroke="#5a5a5a" stroke-width="0.5"/>
<circle cx="-4.6" cy="0" r="1.3" fill="#444"/>
</g>
<path d="M985.3 1163 L985.3 1154.7 A12.7 11.8 0 0 1 1010.7 1154.7 L1010.7 1163" fill="#fff" stroke="#5a5a5a" stroke-width="0.9"/>
<path d="M988.6 1154.5 A9.4 8.6 0 0 1 1007.4 1154.5 C1007.6 1156 1006.8 1157 1005.5 1157.2 L998 1158.3 L990.5 1157.2 C989.2 1157 988.4 1156 988.6 1154.5 Z" fill="none" stroke="#5a5a5a" stroke-width="0.9"/>
<rect x="996.7" y="1151.9" width="2.8" height="8.9" fill="#333"/>
<line x1="1023.1" y1="1142.8" x2="1062.5" y2="1142.8" stroke="#888" stroke-width="1.6"/>
<line x1="1023.3" y1="1142.6" x2="1023.3" y2="1204.6" stroke="#888" stroke-width="1.0"/>
<rect x="1026.2" y="1146.3" width="32.5" height="55.1" rx="3" fill="none" stroke="#666" stroke-width="1.1" />
<rect x="1027.4" y="1147.5" width="30.1" height="52.7" rx="2.5" fill="none" stroke="#999" stroke-width="0.5" />
<circle cx="1031.1" cy="1194.5" r="2.5" fill="#777"/>
<g transform="translate(744.5 305) rotate(190.7)">
<circle r="19.2" fill="none" stroke="#333" stroke-width="0.9"/>
<circle r="17.9" fill="none" stroke="#555" stroke-width="1.6" stroke-dasharray="1.2 1.2"/>
<circle r="16.6" fill="none" stroke="#444" stroke-width="0.6"/>
<circle r="11.5" fill="none" stroke="#777" stroke-width="0.5"/>
<circle r="10.3" fill="none" stroke="#777" stroke-width="0.8" stroke-dasharray="1 1.4"/>
<g transform="rotate(45)"><path d="M0 -20 L2.6 -4.2 L0 0 Z" fill="#111"/><path d="M0 -20 L-2.6 -4.2 L0 0 Z" fill="#555" stroke="#111" stroke-width="0.35"/></g>
<g transform="rotate(135)"><path d="M0 -20 L2.6 -4.2 L0 0 Z" fill="#111"/><path d="M0 -20 L-2.6 -4.2 L0 0 Z" fill="#555" stroke="#111" stroke-width="0.35"/></g>
<g transform="rotate(225)"><path d="M0 -20 L2.6 -4.2 L0 0 Z" fill="#111"/><path d="M0 -20 L-2.6 -4.2 L0 0 Z" fill="#555" stroke="#111" stroke-width="0.35"/></g>
<g transform="rotate(315)"><path d="M0 -20 L2.6 -4.2 L0 0 Z" fill="#111"/><path d="M0 -20 L-2.6 -4.2 L0 0 Z" fill="#555" stroke="#111" stroke-width="0.35"/></g>
<g transform="rotate(0)"><path d="M0 -26.5 L3.8 -3.8 L0 0 Z" fill="#fff" stroke="#111" stroke-width="0.45"/><path d="M0 -26.5 L-3.8 -3.8 L0 0 Z" fill="#000" stroke="#000" stroke-width="0.3"/></g>
<g transform="rotate(90)"><path d="M0 -26.5 L3.8 -3.8 L0 0 Z" fill="#fff" stroke="#111" stroke-width="0.45"/><path d="M0 -26.5 L-3.8 -3.8 L0 0 Z" fill="#000" stroke="#000" stroke-width="0.3"/></g>
<g transform="rotate(180)"><path d="M0 -26.5 L3.8 -3.8 L0 0 Z" fill="#fff" stroke="#111" stroke-width="0.45"/><path d="M0 -26.5 L-3.8 -3.8 L0 0 Z" fill="#000" stroke="#000" stroke-width="0.3"/></g>
<g transform="rotate(270)"><path d="M0 -26.5 L3.8 -3.8 L0 0 Z" fill="#fff" stroke="#111" stroke-width="0.45"/><path d="M0 -26.5 L-3.8 -3.8 L0 0 Z" fill="#000" stroke="#000" stroke-width="0.3"/></g>
<g transform="rotate(0)"><text x="0" y="-27.4" text-anchor="middle" font-family="Liberation Serif" font-size="8" fill="#111">N</text></g>
<g transform="rotate(90)"><text x="0" y="-27.4" text-anchor="middle" font-family="Liberation Serif" font-size="8" fill="#111">E</text></g>
<g transform="rotate(180)"><text x="0" y="-27.4" text-anchor="middle" font-family="Liberation Serif" font-size="8" fill="#111">S</text></g>
<g transform="rotate(270)"><text x="0" y="-27.4" text-anchor="middle" font-family="Liberation Serif" font-size="8" fill="#111">W</text></g>
<g transform="rotate(45)"><text x="0" y="-21.5" text-anchor="middle" font-family="Liberation Serif" font-size="2.6" fill="#555">NE</text></g>
<g transform="rotate(135)"><text x="0" y="-21.5" text-anchor="middle" font-family="Liberation Serif" font-size="2.6" fill="#555">SE</text></g>
<g transform="rotate(225)"><text x="0" y="-21.5" text-anchor="middle" font-family="Liberation Serif" font-size="2.6" fill="#555">SW</text></g>
<g transform="rotate(315)"><text x="0" y="-21.5" text-anchor="middle" font-family="Liberation Serif" font-size="2.6" fill="#555">NW</text></g>
</g>
<text x="216.5" y="45.4" font-family="Liberation Serif" font-size="19.5" font-weight="normal" textLength="58.6" lengthAdjust="spacingAndGlyphs">Garage</text>
<text x="197.6" y="70.3" font-family="Liberation Serif" font-size="19.5" font-weight="normal" textLength="97.6" lengthAdjust="spacingAndGlyphs">12.50 x 3.40</text>
<text x="200.8" y="95.8" font-family="Liberation Serif" font-size="19.5" font-weight="normal" textLength="90.0" lengthAdjust="spacingAndGlyphs">41’0 x 11.2</text>
<text x="220.5" y="120.9" font-family="Liberation Serif" font-size="19.5" font-weight="normal" textLength="50.1" lengthAdjust="spacingAndGlyphs">(Max)</text>
<text x="337.6" y="260.2" font-family="Liberation Serif" font-size="19.5" font-weight="normal" textLength="110.2" lengthAdjust="spacingAndGlyphs">Sitting Room</text>
<text x="348.3" y="285.4" font-family="Liberation Serif" font-size="19.5" font-weight="normal" textLength="88.8" lengthAdjust="spacingAndGlyphs">5.65 x 4.00</text>
<text x="349.2" y="310.5" font-family="Liberation Serif" font-size="19.5" font-weight="normal" textLength="86.6" lengthAdjust="spacingAndGlyphs">18’7 x 13’1</text>
<text x="367.8" y="335.7" font-family="Liberation Serif" font-size="19.5" font-weight="normal" textLength="50.2" lengthAdjust="spacingAndGlyphs">(Max)</text>
<text x="337.0" y="467.4" font-family="Liberation Serif" font-size="21.5" font-weight="normal" textLength="91.3" lengthAdjust="spacingAndGlyphs">Study/Hall</text>
<text x="180.2" y="565.6" font-family="Liberation Serif" font-size="19.5" font-weight="normal" textLength="52.2" lengthAdjust="spacingAndGlyphs">Utility</text>
<text x="518.8" y="489.2" font-family="Liberation Serif" font-size="19.5" font-weight="normal" textLength="114.6" lengthAdjust="spacingAndGlyphs">Dining Room</text>
<text x="530.8" y="514.4" font-family="Liberation Serif" font-size="19.5" font-weight="normal" textLength="89.4" lengthAdjust="spacingAndGlyphs">4.80 x 3.75</text>
<text x="528.9" y="539.5" font-family="Liberation Serif" font-size="19.5" font-weight="normal" textLength="95.1" lengthAdjust="spacingAndGlyphs">15’10 x 12’5</text>
<text x="551.0" y="565.1" font-family="Liberation Serif" font-size="19.5" font-weight="normal" textLength="50.3" lengthAdjust="spacingAndGlyphs">(Max)</text>
<text x="801.5" y="487.7" font-family="Liberation Serif" font-size="19.5" font-weight="normal" textLength="64.2" lengthAdjust="spacingAndGlyphs">Kitchen</text>
<text x="788.9" y="512.8" font-family="Liberation Serif" font-size="19.5" font-weight="normal" textLength="88.1" lengthAdjust="spacingAndGlyphs">5.65 x 2.75</text>
<text x="795.2" y="538.0" font-family="Liberation Serif" font-size="19.5" font-weight="normal" textLength="76.1" lengthAdjust="spacingAndGlyphs">18’7 x 9’1</text>
<text x="808.8" y="563.5" font-family="Liberation Serif" font-size="19.5" font-weight="normal" textLength="50.0" lengthAdjust="spacingAndGlyphs">(Max)</text>
<text x="353.6" y="685.3" font-family="Liberation Serif" font-size="19.5" font-weight="normal" textLength="73.4" lengthAdjust="spacingAndGlyphs">Dressing</text>
<text x="365.0" y="710.7" font-family="Liberation Serif" font-size="19.5" font-weight="normal" textLength="51.2" lengthAdjust="spacingAndGlyphs">Room</text>
<text x="346.4" y="736.0" font-family="Liberation Serif" font-size="19.5" font-weight="normal" textLength="88.4" lengthAdjust="spacingAndGlyphs">3.30 x 2.30</text>
<text x="347.4" y="761.1" font-family="Liberation Serif" font-size="19.5" font-weight="normal" textLength="87.4" lengthAdjust="spacingAndGlyphs">10’10 x 7’6</text>
<text x="395.1" y="847.5" font-family="Liberation Serif" font-size="19.5" font-weight="normal" textLength="88.8" lengthAdjust="spacingAndGlyphs">Bedroom 1</text>
<text x="388.8" y="872.7" font-family="Liberation Serif" font-size="19.5" font-weight="normal" textLength="88.2" lengthAdjust="spacingAndGlyphs">4.85 x 4.25</text>
<text x="385.7" y="897.5" font-family="Liberation Serif" font-size="19.5" font-weight="normal" textLength="97.3" lengthAdjust="spacingAndGlyphs">15’10 x 14’0</text>
<text x="408.4" y="923.0" font-family="Liberation Serif" font-size="19.5" font-weight="normal" textLength="50.3" lengthAdjust="spacingAndGlyphs">(Max)</text>
<text x="366.4" y="1075.6" font-family="Liberation Serif" font-size="19.5" font-weight="normal" textLength="91.6" lengthAdjust="spacingAndGlyphs">Bedroom 3</text>
<text x="361.3" y="1100.4" font-family="Liberation Serif" font-size="19.5" font-weight="normal" textLength="88.8" lengthAdjust="spacingAndGlyphs">4.15 x 3.10</text>
<text x="362.0" y="1126.0" font-family="Liberation Serif" font-size="19.5" font-weight="normal" textLength="86.2" lengthAdjust="spacingAndGlyphs">13’7 x 10’1</text>
<text x="380.8" y="1151.4" font-family="Liberation Serif" font-size="19.5" font-weight="normal" textLength="49.8" lengthAdjust="spacingAndGlyphs">(Max)</text>
<text x="625.1" y="1107.5" font-family="Liberation Serif" font-size="19.5" font-weight="normal" textLength="73.1" lengthAdjust="spacingAndGlyphs">Dressing</text>
<text x="636.2" y="1132.6" font-family="Liberation Serif" font-size="19.5" font-weight="normal" textLength="50.9" lengthAdjust="spacingAndGlyphs">Room</text>
<text x="617.0" y="1157.7" font-family="Liberation Serif" font-size="19.5" font-weight="normal" textLength="88.2" lengthAdjust="spacingAndGlyphs">2.80 x 2.45</text>
<text x="626.3" y="1183.5" font-family="Liberation Serif" font-size="19.5" font-weight="normal" textLength="69.6" lengthAdjust="spacingAndGlyphs">9’3 x 8’0</text>
<text x="824.2" y="1117.4" font-family="Liberation Serif" font-size="19.5" font-weight="normal" textLength="92.3" lengthAdjust="spacingAndGlyphs">Bedroom 2</text>
<text x="819.5" y="1142.6" font-family="Liberation Serif" font-size="19.5" font-weight="normal" textLength="88.5" lengthAdjust="spacingAndGlyphs">5.85 x 3.00</text>
<text x="820.8" y="1167.8" font-family="Liberation Serif" font-size="19.5" font-weight="normal" textLength="86.2" lengthAdjust="spacingAndGlyphs">19’2 x 9’11</text>
<text x="839.3" y="1193.2" font-family="Liberation Serif" font-size="19.5" font-weight="normal" textLength="49.5" lengthAdjust="spacingAndGlyphs">(Max)</text>
<text style="stroke:none" x="22.0" y="286.1" font-family="Liberation Sans" font-size="31" font-weight="normal" textLength="182.6" lengthAdjust="spacingAndGlyphs">Ground Floor</text>
<text style="stroke:none" x="88.1" y="918.3" font-family="Liberation Sans" font-size="31" font-weight="normal" textLength="139.4" lengthAdjust="spacingAndGlyphs">First Floor</text>
<text x="746.0" y="106.4" font-family="Liberation Sans" font-size="28" font-weight="bold" textLength="252.0" lengthAdjust="spacingAndGlyphs">Approximate GIA</text>
<text style="stroke:none" x="634.6" y="135.3" font-family="Liberation Sans" font-size="23.5" font-weight="normal" textLength="249.6" lengthAdjust="spacingAndGlyphs">217.95 Square Metres</text>
<text style="stroke:none" x="910.8" y="135.3" font-family="Liberation Sans" font-size="23.5" font-weight="normal" textLength="198.4" lengthAdjust="spacingAndGlyphs">2346 Square Feet</text>
</svg></body></html>
